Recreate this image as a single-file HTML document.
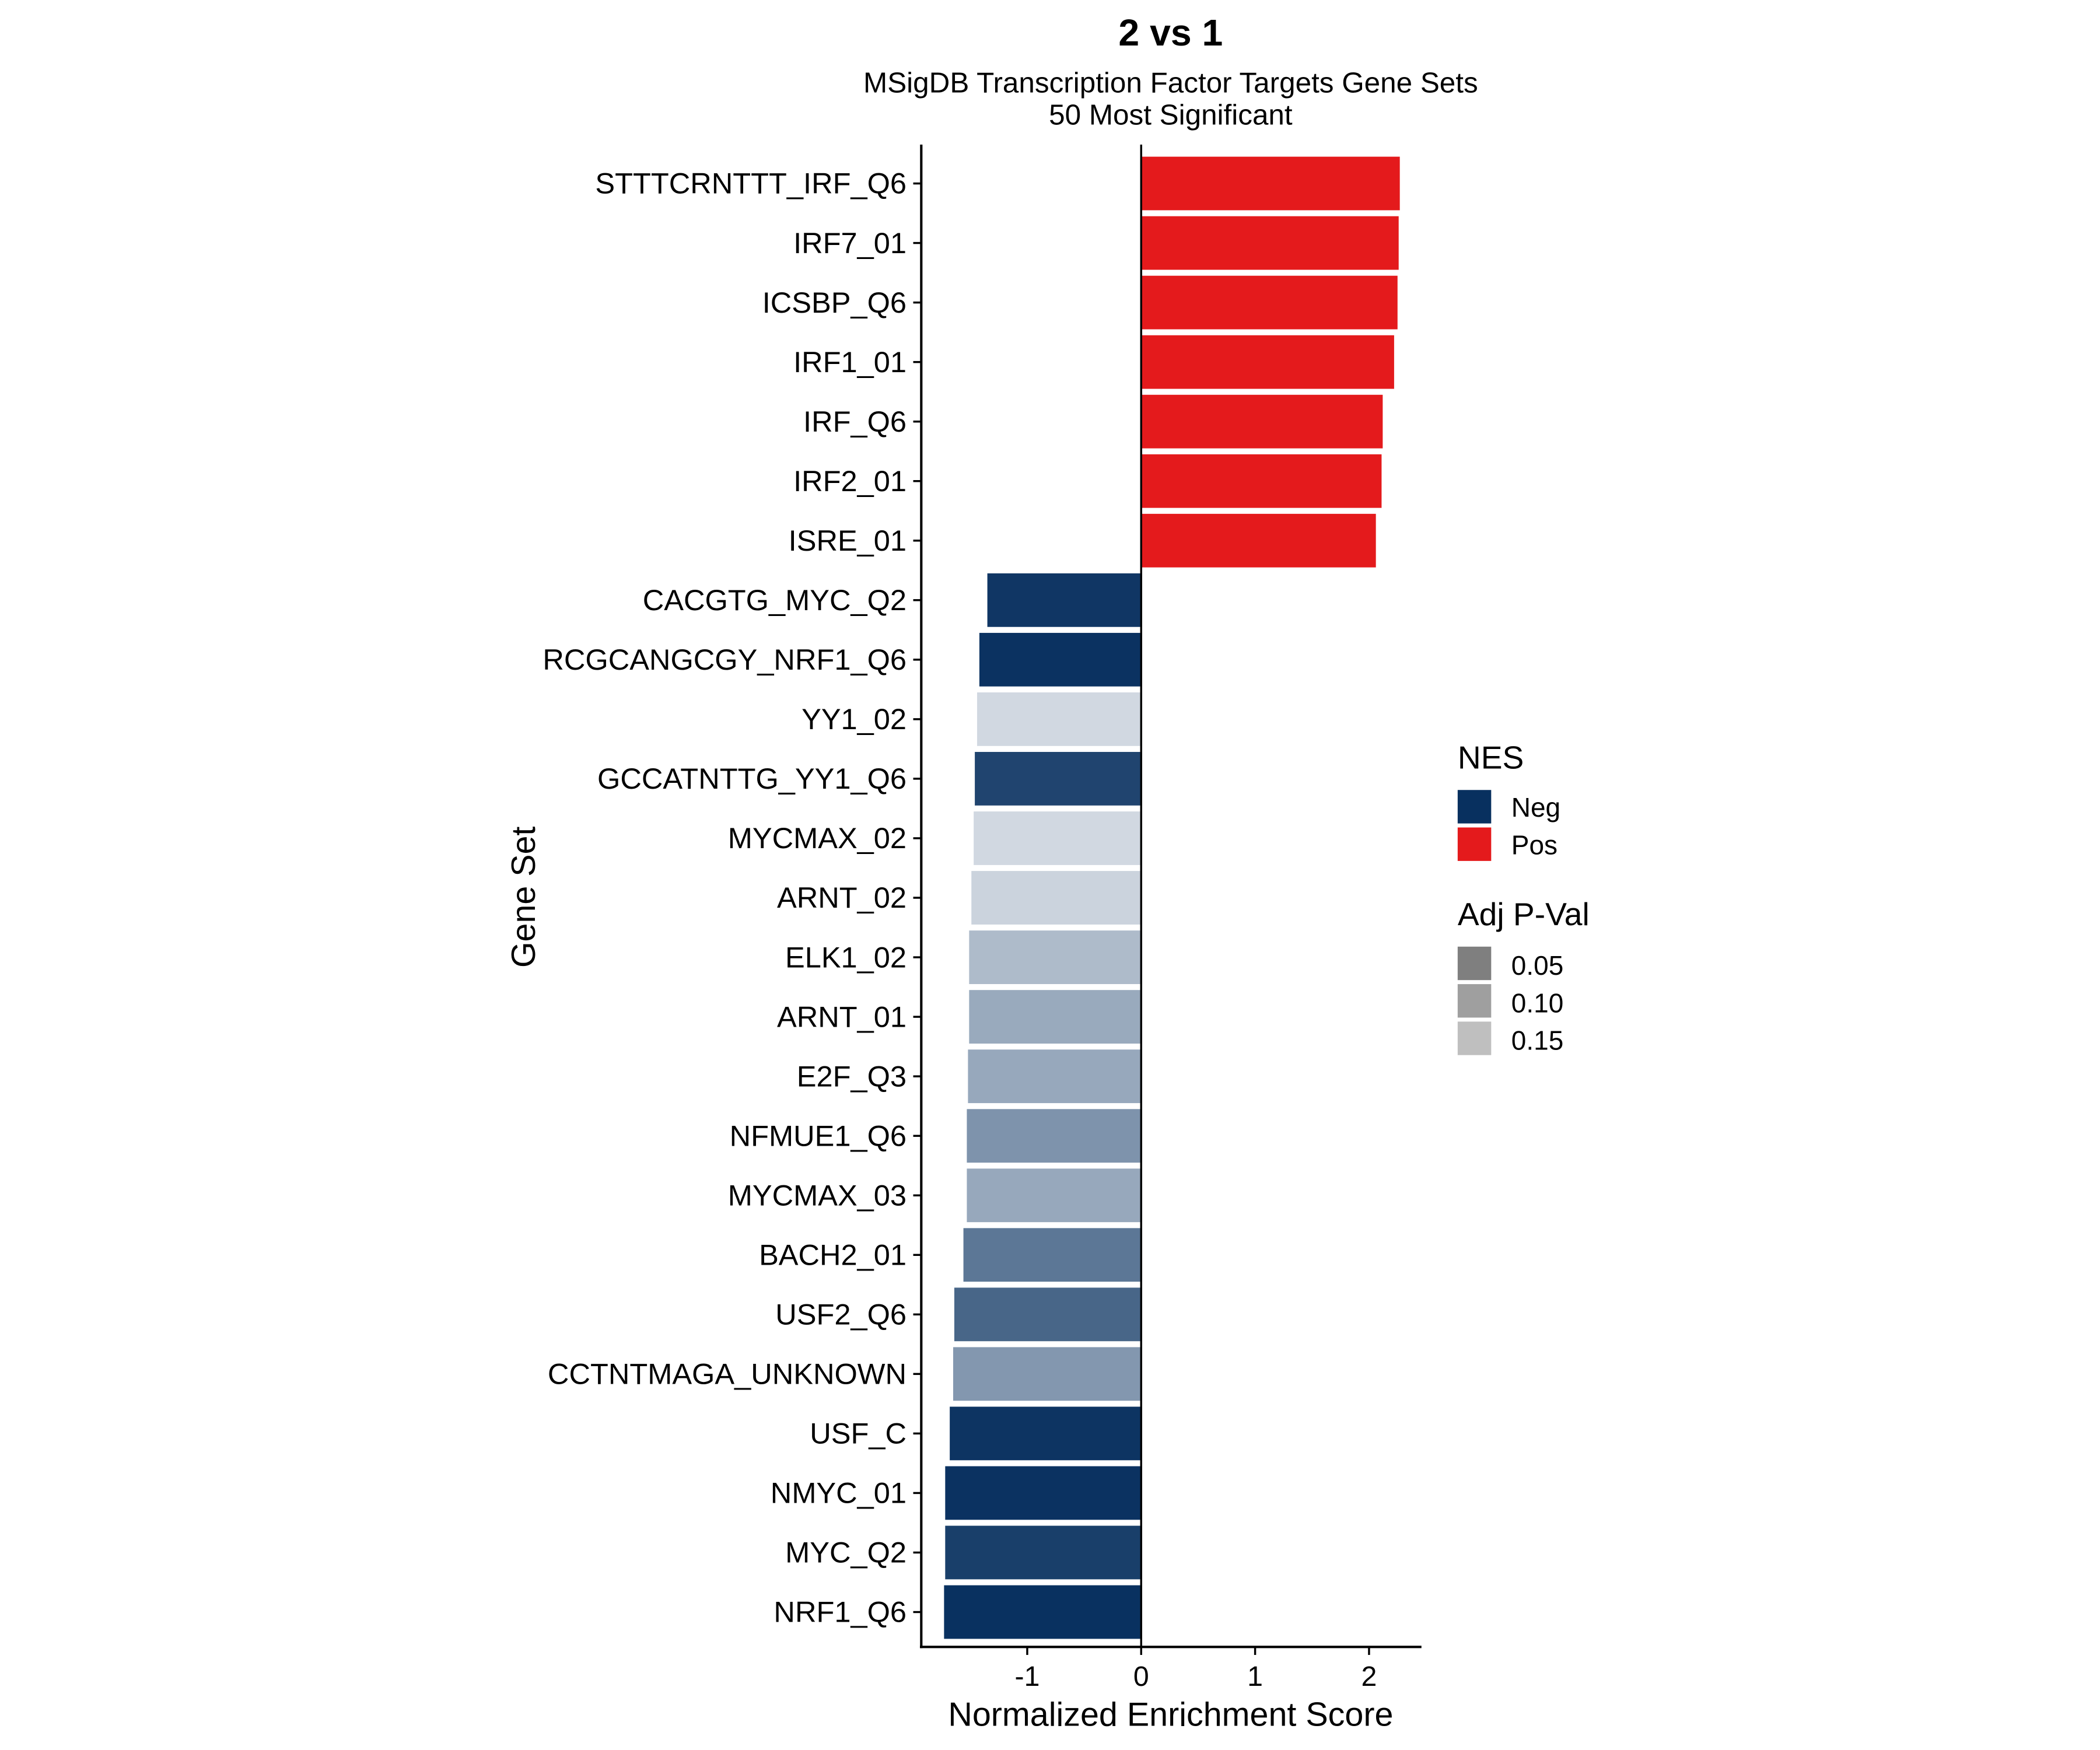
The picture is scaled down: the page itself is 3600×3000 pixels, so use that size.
<!DOCTYPE html>
<html><head><meta charset="utf-8"><style>
html,body{margin:0;padding:0;background:#fff;}
svg{display:block;font-family:"Liberation Sans",Arial,sans-serif;}
</style></head><body>
<svg id="chart" width="3600" height="3000" viewBox="0 0 1566 1307" preserveAspectRatio="none" xmlns="http://www.w3.org/2000/svg">
<rect width="1566" height="1307" fill="#fff"/>
<text x="873" y="34" text-anchor="middle" font-size="28" font-weight="bold">2 vs 1</text>
<text x="873" y="69" text-anchor="middle" font-size="21.5">MSigDB Transcription Factor Targets Gene Sets</text>
<text x="873" y="93" text-anchor="middle" font-size="21.5">50 Most Significant</text>
<g id="bars"></g>
<g id="yaxis"></g>
<g id="xaxis"></g>
<text x="0" y="0" transform="translate(399,670) rotate(-90)" text-anchor="middle" font-size="25">Gene Set</text>
<text x="873" y="1289" text-anchor="middle" font-size="25">Normalized Enrichment Score</text>
<g>
<text x="1087" y="574" font-size="24">NES</text>
<rect x="1087" y="590" width="25" height="25" fill="#08305f"/>
<text x="1127" y="610" font-size="20">Neg</text>
<rect x="1087" y="618" width="25" height="25" fill="#e41a1c"/>
<text x="1127" y="638" font-size="20">Pos</text>
<text x="1087" y="691" font-size="24">Adj P-Val</text>
<rect x="1087" y="707" width="25" height="25" fill="#7f7f7f"/>
<text x="1127" y="728" font-size="20">0.05</text>
<rect x="1087" y="735" width="25" height="25" fill="#9f9f9f"/>
<text x="1127" y="756" font-size="20">0.10</text>
<rect x="1087" y="763" width="25" height="25" fill="#bfbfbf"/>
<text x="1127" y="784" font-size="20">0.15</text>
</g>
</svg>
<script>
const categories = ["STTTCRNTTT_IRF_Q6","IRF7_01","ICSBP_Q6","IRF1_01","IRF_Q6","IRF2_01","ISRE_01","CACGTG_MYC_Q2","RCGCANGCGY_NRF1_Q6","YY1_02","GCCATNTTG_YY1_Q6","MYCMAX_02","ARNT_02","ELK1_02","ARNT_01","E2F_Q3","NFMUE1_Q6","MYCMAX_03","BACH2_01","USF2_Q6","CCTNTMAGA_UNKNOWN","USF_C","NMYC_01","MYC_Q2","NRF1_Q6"];
const nesValues = [2.27,2.26,2.25,2.22,2.12,2.11,2.06,-1.35,-1.42,-1.44,-1.46,-1.47,-1.49,-1.51,-1.51,-1.52,-1.53,-1.53,-1.56,-1.64,-1.65,-1.68,-1.72,-1.72,-1.73];
const adjPValues = [0,0,0,0,0,0,0,0.006,0.002,0.162,0.02,0.162,0.158,0.134,0.118,0.116,0.096,0.116,0.068,0.052,0.1,0.004,0.002,0.014,0.001];
const xTickValues = [-1,0,1,2];
const xTickLabels = ["-1","0","1","2"];

const NS="http://www.w3.org/2000/svg";
const plotL=687, plotR=1060, plotT=108, plotB=1230;
const bandT=114.8, bandB=1226.2;
const xMin=-1.93, xMax=2.46;
function xScale(v){return plotL+(v-xMin)/(xMax-xMin)*(plotR-plotL);}
const step=(bandB-bandT)/categories.length;
function yCenter(i){return bandT+step*(i+0.5);}
function alphaFor(p){return Math.max(0.1,Math.min(1,1-5*p));}
function mk(tag,attrs){const e=document.createElementNS(NS,tag);for(const k in attrs)e.setAttribute(k,attrs[k]);return e;}

const bars=document.getElementById('bars');
const yaxis=document.getElementById('yaxis');
const xaxis=document.getElementById('xaxis');
const bh=step*0.9;
categories.forEach((c,i)=>{
  const v=nesValues[i];
  const x0=xScale(Math.min(0,v)), x1=xScale(Math.max(0,v));
  const r=mk('rect',{x:x0,y:yCenter(i)-bh/2,width:x1-x0,height:bh,fill:v>=0?'#e41a1c':'#08305f','fill-opacity':alphaFor(adjPValues[i])});
  
  
  bars.appendChild(r);
  const t=mk('line',{x1:plotL-6,x2:plotL,y1:yCenter(i),y2:yCenter(i),stroke:'#000','stroke-width':1.5});
  
  
  yaxis.appendChild(t);
  const l=mk('text',{x:plotL-11,y:yCenter(i)+7.5,'text-anchor':'end','font-size':22});
  
  
  l.textContent=c;
  yaxis.appendChild(l);
});
const zl=mk('line',{x1:xScale(0),x2:xScale(0),y1:plotT,y2:plotB,stroke:'#000','stroke-width':1.5});


bars.appendChild(zl);
const ya=mk('line',{x1:plotL,x2:plotL,y1:plotT,y2:plotB+1,stroke:'#000','stroke-width':1.8});


yaxis.appendChild(ya);
const xa=mk('line',{x1:plotL-1,x2:plotR,y1:plotB,y2:plotB,stroke:'#000','stroke-width':1.8});


xaxis.appendChild(xa);
xTickValues.forEach((v,i)=>{
  const t=mk('line',{x1:xScale(v),x2:xScale(v),y1:plotB,y2:plotB+6,stroke:'#000','stroke-width':1.5});
  
  
  xaxis.appendChild(t);
  const l=mk('text',{x:xScale(v),y:plotB+29,'text-anchor':'middle','font-size':21});
  
  
  l.textContent=xTickLabels[i];
  xaxis.appendChild(l);
});
</script>
</body></html>
